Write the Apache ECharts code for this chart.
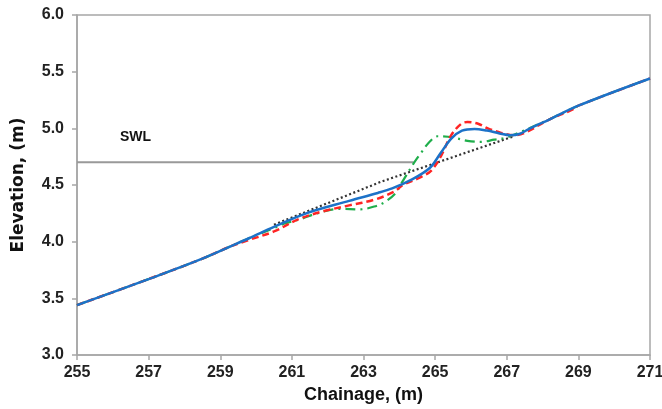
<!DOCTYPE html>
<html>
<head>
<meta charset="utf-8">
<script src="https://cdn.jsdelivr.net/npm/echarts@6/dist/echarts.min.js"></script>
<style>
html,body{margin:0;padding:0;background:#fff;}
#c{width:662px;height:409px;}
</style>
</head>
<body>
<div id="c"></div>
<script>
// Chainage (m) / Elevation (m)
var xTicks = [255, 257, 259, 261, 263, 265, 267, 269, 271];
var yTicks = [3.0, 3.5, 4.0, 4.5, 5.0, 5.5, 6.0];
var swl = [[255, 4.7], [264.4, 4.7]];
var initialProfile = [[260.5, 4.15], [263.5, 4.53], [267.2, 4.93]];
var blueProfile = [
  [255, 3.44], [257, 3.67], [258.5, 3.85], [259.8, 4.03], [260.5, 4.13],
  [261.4, 4.25], [262.6, 4.36], [263.4, 4.43], [263.8, 4.47], [264.3, 4.54],
  [264.85, 4.65], [265.15, 4.78], [265.45, 4.91], [265.75, 4.98], [266.1, 4.995],
  [266.45, 4.98], [266.8, 4.955], [267.1, 4.94], [267.35, 4.95], [267.65, 5.0],
  [268.2, 5.08], [269, 5.2], [271, 5.44]
];
var redProfile = [
  [255, 3.44], [257, 3.67], [258.5, 3.85], [259.3, 3.96], [259.75, 4.01],
  [260.5, 4.09], [261.2, 4.2], [261.9, 4.27], [262.6, 4.32], [263.3, 4.37],
  [263.85, 4.44], [264.1, 4.5], [264.6, 4.57], [264.9, 4.63], [265.17, 4.76],
  [265.45, 4.94], [265.73, 5.04], [265.9, 5.055], [266.2, 5.04], [266.47, 5.0],
  [266.84, 4.96], [267.2, 4.94], [267.5, 4.96], [268.2, 5.08], [268.8, 5.16],
  [269, 5.2], [271, 5.44]
];
var greenProfile = [
  [255, 3.44], [257, 3.67], [258.5, 3.85], [259.8, 4.03], [260.5, 4.12],
  [260.8, 4.16], [261.25, 4.2], [261.7, 4.25], [262.35, 4.29], [262.9, 4.285],
  [263.3, 4.31], [263.6, 4.35], [263.9, 4.43], [264.05, 4.51], [264.4, 4.69],
  [264.6, 4.78], [264.84, 4.88], [265.07, 4.93], [265.49, 4.92], [265.9, 4.89],
  [266.28, 4.88], [266.65, 4.9], [267.0, 4.92], [267.4, 4.97], [268.2, 5.08],
  [269, 5.2], [271, 5.44]
];

var chart = echarts.init(document.getElementById('c'), null, {renderer: 'canvas'});
var axisGray = '#a6a6a6';
var labelFont = {fontFamily: 'Liberation Sans, Arial, sans-serif', fontWeight: 'bold', fontSize: 16, color: '#222'};
chart.setOption({
  animation: false,
  backgroundColor: '#fff',
  grid: {left: 77, right: 12, top: 15, bottom: 54, show: true, borderColor: axisGray, borderWidth: 1.5,
         containLabel: false, outerBoundsMode: 'none'},
  xAxis: {
    type: 'value', min: xTicks[0], max: xTicks[xTicks.length - 1], interval: 2,
    name: 'Chainage, (m)', nameLocation: 'middle', nameGap: 29,
    nameTextStyle: {fontFamily: 'Liberation Sans, Arial, sans-serif', fontWeight: 'bold', fontSize: 18, color: '#111'},
    axisLine: {show: true, lineStyle: {color: axisGray, width: 1.5}},
    axisTick: {show: true, inside: false, length: 5, lineStyle: {color: axisGray, width: 1.5}},
    axisLabel: Object.assign({margin: 10}, labelFont),
    splitLine: {show: false}
  },
  yAxis: {
    type: 'value', min: yTicks[0], max: yTicks[yTicks.length - 1], interval: 0.5,
    name: 'Elevation, (m)', nameLocation: 'middle', nameGap: 50, nameRotate: 90,
    nameTextStyle: {fontFamily: 'DejaVu Sans, sans-serif', fontWeight: 'bold', fontSize: 17, color: '#111'},
    axisLine: {show: true, lineStyle: {color: axisGray, width: 1.5}},
    axisTick: {show: true, inside: false, length: 5, lineStyle: {color: axisGray, width: 1.5}},
    axisLabel: Object.assign({margin: 13, formatter: function (v) { return v.toFixed(1); }}, labelFont),
    splitLine: {show: false}
  },
  graphic: [{
    type: 'text', left: 120, top: 130,
    style: {text: 'SWL', fontFamily: 'Liberation Sans, Arial, sans-serif', fontWeight: 'bold', fontSize: 14, fill: '#111'}
  }],
  series: [
    {type: 'line', data: swl, symbol: 'none', lineStyle: {color: '#999', width: 2}, z: 1},
    {type: 'line', data: initialProfile, symbol: 'none', lineStyle: {color: '#333', width: 2.2, type: [2, 2.5]}, z: 2},
    {type: 'line', data: greenProfile, symbol: 'none', smooth: 0.35, lineStyle: {color: '#1fae4b', width: 2.2, type: [10, 5, 2, 5]}, z: 3},
    {type: 'line', data: redProfile, symbol: 'none', smooth: 0.35, lineStyle: {color: '#ff2424', width: 2.5, type: [7, 4]}, z: 4},
    {type: 'line', data: blueProfile, symbol: 'none', smooth: 0.35, lineStyle: {color: '#1c72c8', width: 2.5}, z: 5}
  ]
});
</script>
</body>
</html>
